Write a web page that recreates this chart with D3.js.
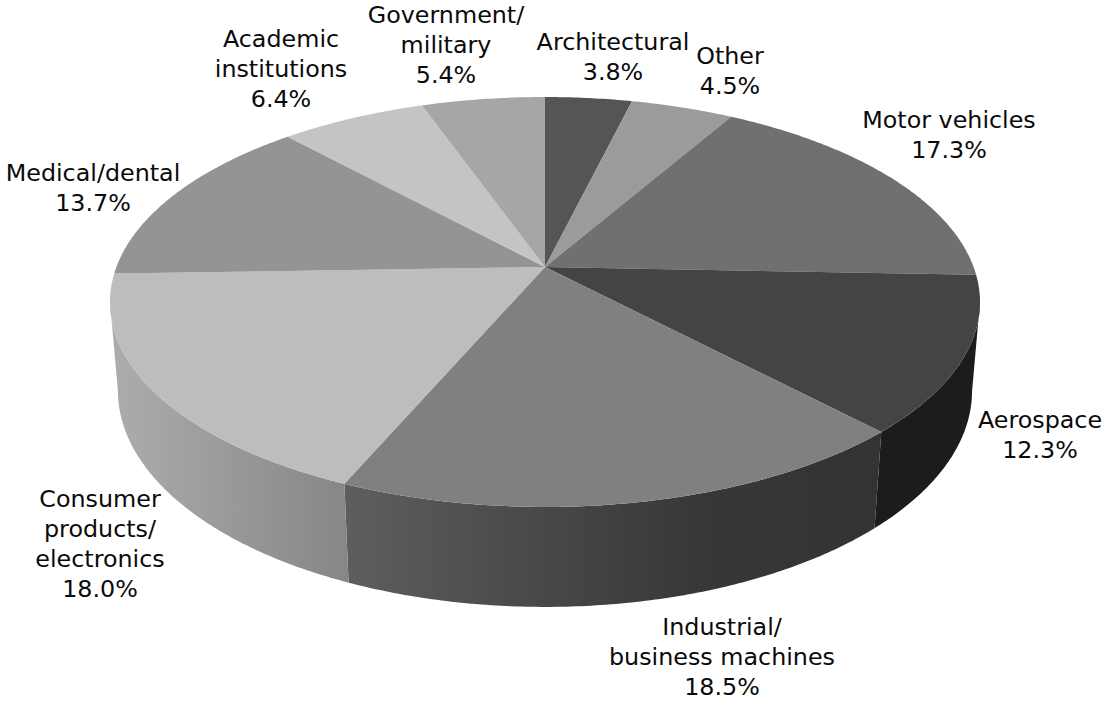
<!DOCTYPE html>
<html>
<head>
<meta charset="utf-8">
<title>Market share by industry</title>
<style>
  html, body { margin: 0; padding: 0; background: #fff; }
  svg { display: block; }
  text { font-family: "DejaVu Sans", Verdana, sans-serif; font-size: 23.8px; fill: #0a0a0a; }
</style>
<script src="https://cdn.jsdelivr.net/npm/d3@7/dist/d3.min.js"></script>
</head>
<body>
<svg id="chart" width="1104" height="701"></svg>
<script>
// Slices run clockwise from twelve o'clock.
const categories = ["Architectural", "Other", "Motor vehicles", "Aerospace",
  "Industrial/ business machines", "Consumer products/ electronics",
  "Medical/dental", "Academic institutions", "Government/ military"];
const shares = [3.8, 4.5, 17.3, 12.3, 18.5, 18.0, 13.7, 6.4, 5.4];
const topGreys = ["#555555", "#9b9b9b", "#707070", "#444444", "#808080",
  "#bdbdbd", "#949494", "#c4c4c4", "#a6a6a6"];
// Rim shading of each slice, evenly spaced from its left end to its right end.
const sideGreys = [["#333", "#333"], ["#444", "#444"], ["#222", "#222"], ["#1c1c1c", "#1c1c1c"],
  ["#5e5e5e", "#4a4a4a", "#373737", "#333333"], ["#adadad", "#868686"], ["#adadad", "#adadad"],
  ["#888", "#888"], ["#777", "#777"]];
const labelLines = [
  ["Architectural", "3.8%"],
  ["Other", "4.5%"],
  ["Motor vehicles", "17.3%"],
  ["Aerospace", "12.3%"],
  ["Industrial/", "business machines", "18.5%"],
  ["Consumer", "products/", "electronics", "18.0%"],
  ["Medical/dental", "13.7%"],
  ["Academic", "institutions", "6.4%"],
  ["Government/", "military", "5.4%"]
];
// Horizontal centre and first baseline of each label block.
const labelAnchors = [[613, 50], [730, 63.5], [949, 128], [1040, 428], [722, 635],
  [100, 507], [93, 181], [281, 47], [446, 23]];
const lineHeight = 30;

// Perspective view of a disc with some thickness, seen from above.
const view = { cx: 545, cy: 267, a: 428.6, b: 199, tilt: 0.1707, fall: 89, shrink: 0.018 };

function project(angle, depth) {
  const u = Math.sin(angle), v = Math.cos(angle);
  const w = 1 + view.tilt * v + view.shrink * depth;
  return [view.cx + view.a * u / w, view.cy - (view.b * v - view.fall * depth) / w];
}

function arcPoints(start, end, depth) {
  const steps = Math.max(8, Math.ceil((end - start) / 0.01));
  return d3.range(steps + 1).map(i => project(start + (end - start) * i / steps, depth));
}

const svg = d3.select("#chart");
const defs = svg.append("defs");
const line = d3.line();
const slices = d3.pie().sort(null).value(d => d)(shares);

// Only the front of the rim faces the viewer: it runs between the two points
// where the disc's outline turns back on itself.
const rimFrom = Math.acos(-view.tilt);
const rimTo = 2 * Math.PI - rimFrom;

const rims = svg.append("g");
slices.forEach((s, i) => {
  const start = Math.max(s.startAngle, rimFrom);
  const end = Math.min(s.endAngle, rimTo);
  if (end <= start) return;
  const upper = arcPoints(start, end, 0);
  const lower = arcPoints(start, end, 1).reverse();
  const outline = upper.concat(lower);
  const xs = d3.extent(outline, p => p[0]);
  const grad = defs.append("linearGradient")
    .attr("id", "rim" + i)
    .attr("gradientUnits", "userSpaceOnUse")
    .attr("x1", xs[0]).attr("x2", xs[1]).attr("y1", 0).attr("y2", 0);
  sideGreys[i].forEach((c, k, all) => {
    grad.append("stop").attr("offset", k / (all.length - 1)).attr("stop-color", c);
  });
  rims.append("path").attr("d", line(outline) + "Z").attr("fill", `url(#rim${i})`);
});

const tops = svg.append("g");
slices.forEach((s, i) => {
  const outline = [[view.cx, view.cy]].concat(arcPoints(s.startAngle, s.endAngle, 0));
  tops.append("path").attr("d", line(outline) + "Z").attr("fill", topGreys[i]);
});

const labels = svg.append("g").attr("text-anchor", "middle");
labelLines.forEach((lines, i) => {
  const t = labels.append("text").attr("aria-label", categories[i]);
  lines.forEach((txt, j) => {
    t.append("tspan")
      .attr("x", labelAnchors[i][0])
      .attr("y", labelAnchors[i][1] + j * lineHeight)
      .text(txt);
  });
});
</script>
</body>
</html>
